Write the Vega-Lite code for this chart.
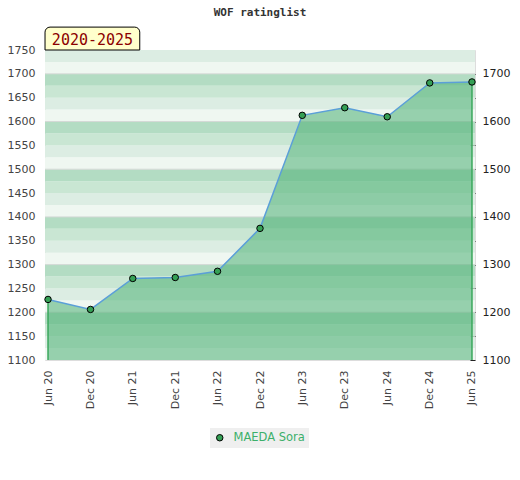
{
  "$schema": "https://vega.github.io/schema/vega-lite/v6.json",
  "autosize": "none",
  "width": 430,
  "height": 310,
  "padding": {"left": 45, "top": 50, "right": 45, "bottom": 120},
  "background": "white",
  "title": {
    "text": "WOF ratinglist",
    "font": "DejaVu Sans Mono", "fontSize": 11, "fontWeight": "bold", "color": "#333",
    "anchor": "middle", "frame": "group", "offset": 9
  },
  "datasets": {
    "ratings": [
      {"date": "2020-06-01", "rating": 1227, "player": "MAEDA Sora"},
      {"date": "2020-12-01", "rating": 1206, "player": "MAEDA Sora"},
      {"date": "2021-06-01", "rating": 1271, "player": "MAEDA Sora"},
      {"date": "2021-12-01", "rating": 1273, "player": "MAEDA Sora"},
      {"date": "2022-06-01", "rating": 1286, "player": "MAEDA Sora"},
      {"date": "2022-12-01", "rating": 1376, "player": "MAEDA Sora"},
      {"date": "2023-06-01", "rating": 1613, "player": "MAEDA Sora"},
      {"date": "2023-12-01", "rating": 1629, "player": "MAEDA Sora"},
      {"date": "2024-06-01", "rating": 1610, "player": "MAEDA Sora"},
      {"date": "2024-12-01", "rating": 1681, "player": "MAEDA Sora"},
      {"date": "2025-06-01", "rating": 1683, "player": "MAEDA Sora"}
    ],
    "bands": [
      {"lo": 1100, "hi": 1125, "q": "q1"}, {"lo": 1125, "hi": 1150, "q": "q2"},
      {"lo": 1150, "hi": 1175, "q": "q3"}, {"lo": 1175, "hi": 1200, "q": "q4"},
      {"lo": 1200, "hi": 1225, "q": "q1"}, {"lo": 1225, "hi": 1250, "q": "q2"},
      {"lo": 1250, "hi": 1275, "q": "q3"}, {"lo": 1275, "hi": 1300, "q": "q4"},
      {"lo": 1300, "hi": 1325, "q": "q1"}, {"lo": 1325, "hi": 1350, "q": "q2"},
      {"lo": 1350, "hi": 1375, "q": "q3"}, {"lo": 1375, "hi": 1400, "q": "q4"},
      {"lo": 1400, "hi": 1425, "q": "q1"}, {"lo": 1425, "hi": 1450, "q": "q2"},
      {"lo": 1450, "hi": 1475, "q": "q3"}, {"lo": 1475, "hi": 1500, "q": "q4"},
      {"lo": 1500, "hi": 1525, "q": "q1"}, {"lo": 1525, "hi": 1550, "q": "q2"},
      {"lo": 1550, "hi": 1575, "q": "q3"}, {"lo": 1575, "hi": 1600, "q": "q4"},
      {"lo": 1600, "hi": 1625, "q": "q1"}, {"lo": 1625, "hi": 1650, "q": "q2"},
      {"lo": 1650, "hi": 1675, "q": "q3"}, {"lo": 1675, "hi": 1700, "q": "q4"},
      {"lo": 1700, "hi": 1725, "q": "q1"}, {"lo": 1725, "hi": 1750, "q": "q2"}
    ]
  },
  "data": {"name": "ratings", "format": {"parse": {"date": "date"}}},
  "encoding": {
    "x": {
      "field": "date", "type": "temporal", "title": null,
      "scale": {"domain": [{"year": 2020, "month": 5, "date": 19}, {"year": 2025, "month": 6, "date": 14}]},
      "axis": {
        "values": [
          {"year": 2020, "month": 6, "date": 1}, {"year": 2020, "month": 12, "date": 1},
          {"year": 2021, "month": 6, "date": 1}, {"year": 2021, "month": 12, "date": 1},
          {"year": 2022, "month": 6, "date": 1}, {"year": 2022, "month": 12, "date": 1},
          {"year": 2023, "month": 6, "date": 1}, {"year": 2023, "month": 12, "date": 1},
          {"year": 2024, "month": 6, "date": 1}, {"year": 2024, "month": 12, "date": 1},
          {"year": 2025, "month": 6, "date": 1}
        ],
        "format": "%b %y", "labelAngle": -90, "ticks": false, "domain": false, "grid": false,
        "labelPadding": 10, "labelFont": "DejaVu Sans", "labelFontSize": 11, "labelColor": "#444"
      }
    }
  },
  "layer": [
    {
      "data": {"name": "bands"},
      "mark": {"type": "rect"},
      "encoding": {
        "x": null,
        "y": {
          "field": "lo", "type": "quantitative", "title": null,
          "scale": {"domain": [1100, 1750], "nice": false, "zero": false},
          "axis": {
            "orient": "left", "values": [1100, 1150, 1200, 1250, 1300, 1350, 1400, 1450, 1500, 1550, 1600, 1650, 1700, 1750],
            "format": "d", "ticks": false, "domain": false, "grid": false, "labelPadding": 10,
            "labelFont": "DejaVu Sans", "labelFontSize": 11, "labelColor": "#444"
          }
        },
        "y2": {"field": "hi"},
        "fill": {
          "field": "q", "type": "nominal", "legend": null,
          "scale": {"domain": ["q1", "q2", "q3", "q4"], "range": ["#eff7f1", "#dcede3", "#c9e6d3", "#b3dcc3"]}
        }
      }
    },
    {
      "data": {"name": "bands"},
      "transform": [{"filter": "datum.q === 'q1' && datum.lo > 1100"}],
      "mark": {"type": "rule", "color": "#d3d8d5", "strokeWidth": 1},
      "encoding": {
        "x": null,
        "y": {"field": "lo", "type": "quantitative", "axis": null}
      }
    },
    {
      "mark": {"type": "area", "color": "#4db074", "opacity": 0.55},
      "encoding": {
        "y": {
          "field": "rating", "type": "quantitative", "title": null,
          "axis": {
            "orient": "right", "values": [1100, 1150, 1200, 1250, 1300, 1350, 1400, 1450, 1500, 1550, 1600, 1650, 1700],
            "labelExpr": "datum.value % 100 === 0 ? format(datum.value, 'd') : ''",
            "ticks": true, "tickSize": -5, "tickColor": "#222", "domain": false, "grid": false, "labelPadding": 12,
            "labelFont": "DejaVu Sans", "labelFontSize": 11, "labelColor": "#222"
          }
        },
        "y2": {"datum": 1100}
      }
    },
    {
      "transform": [
        {"window": [{"op": "row_number", "as": "idx"}]},
        {"joinaggregate": [{"op": "max", "field": "idx", "as": "n"}]},
        {"filter": "datum.idx === 1 || datum.idx === datum.n"}
      ],
      "mark": {"type": "rule", "color": "#3aa85c", "strokeWidth": 1.5},
      "encoding": {
        "y": {"field": "rating", "type": "quantitative", "axis": null},
        "y2": {"datum": 1100}
      }
    },
    {
      "mark": {"type": "line", "color": "#5b9fd8", "strokeWidth": 1.5},
      "encoding": {
        "y": {"field": "rating", "type": "quantitative", "axis": null}
      }
    },
    {
      "mark": {"type": "point", "filled": true, "size": 42, "stroke": "#000", "strokeWidth": 1, "opacity": 1},
      "encoding": {
        "y": {"field": "rating", "type": "quantitative", "axis": null},
        "color": {
          "field": "player", "type": "nominal", "title": null,
          "scale": {"range": ["#35a055"]},
          "legend": {
            "orient": "none", "legendX": 165, "legendY": 378,
            "fillColor": "#efefef", "padding": 4,
            "symbolType": "circle", "symbolSize": 42, "symbolStrokeColor": "#000", "symbolStrokeWidth": 1,
            "labelFont": "DejaVu Sans", "labelFontSize": 11.5, "labelColor": "#3cb06a", "labelOffset": 8
          }
        }
      }
    },
    {
      "transform": [
        {"window": [{"op": "row_number", "as": "idx"}, {"op": "lead", "field": "date", "param": 2, "as": "end"}]},
        {"filter": "datum.idx === 1"}
      ],
      "mark": {
        "type": "rect", "fill": "#ffffcc", "stroke": "#000", "strokeWidth": 1,
        "cornerRadiusTopLeft": 5, "cornerRadiusTopRight": 5, "clip": false,
        "xOffset": -3, "x2Offset": 7
      },
      "encoding": {
        "x": {"field": "date", "type": "temporal"},
        "x2": {"field": "end"},
        "y": {"datum": 1750, "type": "quantitative", "axis": null},
        "y2": {"datum": 1798}
      }
    },
    {
      "transform": [
        {"window": [{"op": "row_number", "as": "idx"}]},
        {"filter": "datum.idx === 2"}
      ],
      "mark": {"type": "text", "font": "DejaVu Sans Mono", "fontSize": 15, "color": "#8b0000", "align": "center", "baseline": "middle", "clip": false, "dx": 2, "dy": 1},
      "encoding": {
        "x": {"field": "date", "type": "temporal"},
        "y": {"datum": 1774, "type": "quantitative", "axis": null},
        "text": {"value": "2020-2025"}
      }
    }
  ],
  "resolve": {"axis": {"y": "independent"}},
  "config": {
    "view": {"stroke": "#dddddd", "strokeWidth": 1},
    "axis": {"labelFont": "DejaVu Sans"}
  }
}
